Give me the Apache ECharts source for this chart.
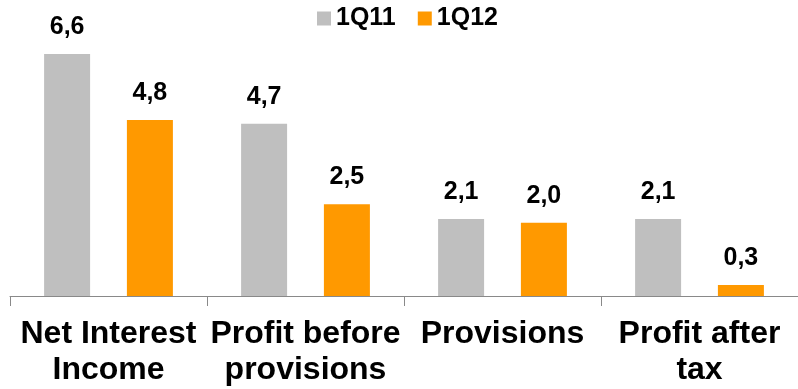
<!DOCTYPE html>
<html>
<head>
<meta charset="utf-8">
<script src="https://cdn.jsdelivr.net/npm/echarts@6/dist/echarts.min.js"></script>
<style>
  html, body { margin: 0; padding: 0; background: #fff; }
  #chart { width: 798px; height: 389px; }
</style>
</head>
<body>
<div id="chart"></div>
<script>
// Quarterly comparison, values in EUR bn
var categories = ['Net Interest\nIncome', 'Profit before\nprovisions', 'Provisions', 'Profit after\ntax'];
var seriesNames = ['1Q11', '1Q12'];
var values1Q11 = [6.6, 4.7, 2.1, 2.1];
var values1Q12 = [4.8, 2.5, 2.0, 0.3];

var FONT = '"Liberation Sans", Arial, sans-serif';

function commaLabel(p) {
  return p.value.toFixed(1).replace('.', ',');
}

var labelStyle = {
  show: true,
  position: 'top',
  distance: 15,
  formatter: commaLabel,
  fontFamily: FONT,
  fontWeight: 'bold',
  fontSize: 25,
  lineHeight: 24,
  color: '#000'
};

var chart = echarts.init(document.getElementById('chart'), null, { renderer: 'canvas' });
chart.setOption({
  animation: false,
  color: ['#BFBFBF', '#FF9900'],
  legend: {
    data: seriesNames,
    left: 317,
    top: 6,
    padding: 0,
    itemWidth: 14,
    itemHeight: 14,
    itemGap: 22,
    icon: 'rect',
    textStyle: { fontFamily: FONT, fontWeight: 'bold', fontSize: 25, lineHeight: 24, color: '#000' }
  },
  grid: { left: 10, width: 794, top: 21, bottom: 93, containLabel: false },
  xAxis: {
    type: 'category',
    data: categories,
    axisLine: { lineStyle: { color: '#898989', width: 1 } },
    axisTick: { show: true, length: 10, alignWithLabel: false, lineStyle: { color: '#898989' } },
    axisLabel: {
      interval: 0,
      margin: 20,
      fontFamily: FONT,
      fontWeight: 'bold',
      fontSize: 32,
      lineHeight: 36,
      color: '#000'
    }
  },
  yAxis: {
    type: 'value',
    min: 0,
    max: 7.5,
    show: false,
    splitLine: { show: false }
  },
  series: [
    {
      name: seriesNames[0],
      type: 'bar',
      data: values1Q11,
      barWidth: 46,
      barGap: '80%',
      label: labelStyle
    },
    {
      name: seriesNames[1],
      type: 'bar',
      data: values1Q12,
      barWidth: 46,
      barGap: '80%',
      label: labelStyle
    }
  ]
});
</script>
</body>
</html>
